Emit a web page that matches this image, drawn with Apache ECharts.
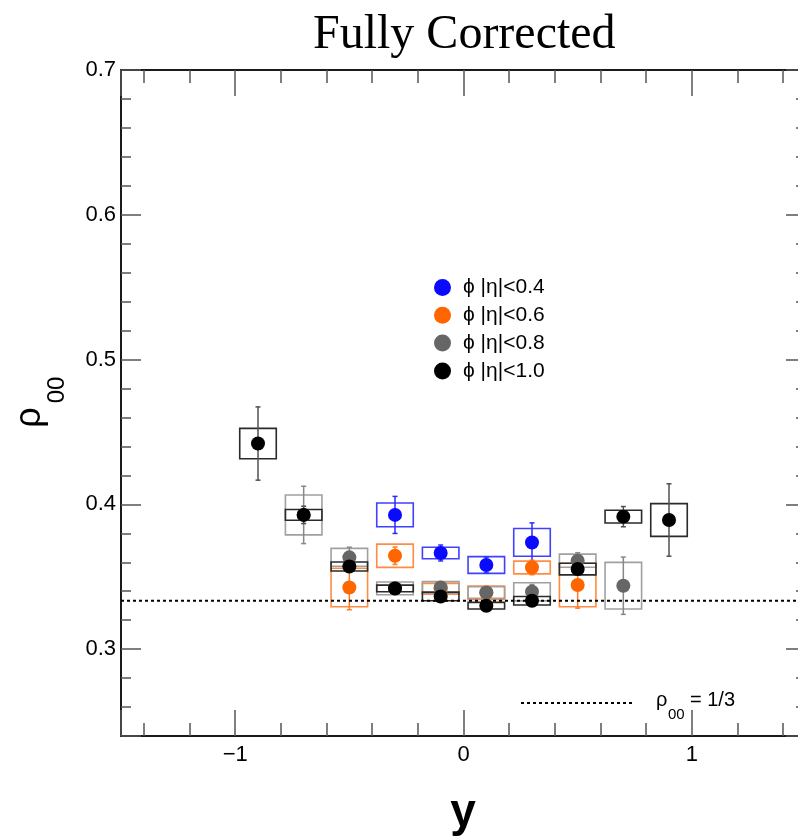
<!DOCTYPE html>
<html>
<head>
<meta charset="utf-8">
<script src="https://cdn.jsdelivr.net/npm/echarts@6/dist/echarts.min.js"></script>
<style>
html,body{margin:0;padding:0;background:#fff;}
#chart{width:798px;height:838px;}
</style>
</head>
<body>
<div id="chart"></div>
<script>
// ---------- data ----------
const seriesNames = ['ϕ |η|<0.4', 'ϕ |η|<0.6', 'ϕ |η|<0.8', 'ϕ |η|<1.0'];

const xBlue    = [-0.3, -0.1, 0.1, 0.3];
const yBlue    = [0.3927, 0.3664, 0.3581, 0.3737];
const statBlue = [0.0128, 0.0055, 0.0055, 0.0135];
const sysBlue  = [0.0082, 0.0040, 0.0058, 0.0096];

const xOrange    = [-0.5, -0.3, -0.1, 0.1, 0.3, 0.5];
const yOrange    = [0.3426, 0.3645, 0.3417, 0.3390, 0.3564, 0.3443];
const statOrange = [0.0154, 0.0060, 0.0040, 0.0040, 0.0050, 0.0160];
const sysOrange  = [0.0133, 0.0080, 0.0037, 0.0046, 0.0044, 0.0150];

const xGray    = [-0.7, -0.5, -0.3, -0.1, 0.1, 0.3, 0.5, 0.7];
const yGray    = [0.3927, 0.3634, 0.3420, 0.3426, 0.3391, 0.3396, 0.3611, 0.3438];
const statGray = [0.0198, 0.0070, 0.0040, 0.0040, 0.0040, 0.0050, 0.0055, 0.0198];
const sysGray  = [0.0138, 0.0062, 0.0044, 0.0040, 0.0040, 0.0063, 0.0045, 0.0161];

const xBlack    = [-0.9, -0.7, -0.5, -0.3, -0.1, 0.1, 0.3, 0.5, 0.7, 0.9];
const yBlack    = [0.4420, 0.3927, 0.3571, 0.3419, 0.3364, 0.3300, 0.3334, 0.3553, 0.3915, 0.3892];
const statBlack = [0.0253, 0.0060, 0.0030, 0.0030, 0.0030, 0.0030, 0.0030, 0.0040, 0.0070, 0.0250];
const sysBlack  = [0.0105, 0.0037, 0.0031, 0.0023, 0.0030, 0.0023, 0.0029, 0.0040, 0.0044, 0.0113];

const refValue = 1 / 3;

const xRange = [-1.5, 1.5];
const yRange = [0.24, 0.7];
const xTickValues = [-1, 0, 1];
const xTickLabels = ['−1', '0', '1'];
const yTickValues = [0.3, 0.4, 0.5, 0.6, 0.7];
const yTickLabels = ['0.3', '0.4', '0.5', '0.6', '0.7'];

// ---------- styling ----------
const BOX_HALF_WIDTH = 0.08;
const FONT = 'Liberation Sans, Arial, Helvetica, sans-serif';

const styles = [
  { dot: '#0a0aff', err: '#2a2aff', box: '#4040ff' },
  { dot: '#ff6600', err: '#ff7a20', box: '#ff8c45' },
  { dot: '#666666', err: '#888888', box: '#a0a0a0' },
  { dot: '#000000', err: '#505050', box: '#2a2a2a' }
];

function zip(xs, ys) { return xs.map((x, i) => [x, ys[i]]); }
function zip4(xs, ys, st, sy) { return xs.map((x, i) => [x, ys[i], st[i], sy[i]]); }

function errSeries(xs, ys, st, sy, style) {
  return {
    type: 'custom',
    silent: true,
    xAxisIndex: 0, yAxisIndex: 0,
    data: zip4(xs, ys, st, sy),
    encode: { x: 0, y: 1 },
    renderItem: function (params, api) {
      const x = api.value(0), y = api.value(1), s = api.value(2), b = api.value(3);
      const c = api.coord([x, y]);
      const t = api.coord([x, y + s]);
      const d = api.coord([x, y - s]);
      const tl = api.coord([x - BOX_HALF_WIDTH, y + b]);
      const br = api.coord([x + BOX_HALF_WIDTH, y - b]);
      return {
        type: 'group',
        children: [
          { type: 'rect', shape: { x: tl[0], y: tl[1], width: br[0] - tl[0], height: br[1] - tl[1] },
            style: { fill: 'none', stroke: style.box, lineWidth: 1.6 } },
          { type: 'line', shape: { x1: c[0], y1: t[1], x2: c[0], y2: d[1] },
            style: { stroke: style.err, lineWidth: 1.5 } },
          { type: 'line', shape: { x1: c[0] - 2.5, y1: t[1], x2: c[0] + 2.5, y2: t[1] },
            style: { stroke: style.err, lineWidth: 1.5 } },
          { type: 'line', shape: { x1: c[0] - 2.5, y1: d[1], x2: c[0] + 2.5, y2: d[1] },
            style: { stroke: style.err, lineWidth: 1.5 } }
        ]
      };
    }
  };
}

function dotSeries(name, xs, ys, style) {
  return {
    type: 'scatter',
    name: name,
    xAxisIndex: 0, yAxisIndex: 0,
    symbol: 'circle',
    symbolSize: 14,
    itemStyle: { color: style.dot, opacity: 1 },
    data: zip(xs, ys)
  };
}

const axisLineStyle = { color: '#1a1a1a', width: 2 };
const tickStyle = { color: '#555555', width: 1.5 };

function xAx(position, major, showLine, showLabel) {
  return {
    type: 'value', position: position, min: xRange[0], max: xRange[1],
    splitNumber: major ? 3 : 15,
    axisLine: { show: showLine, onZero: false, lineStyle: axisLineStyle },
    axisTick: { show: true, inside: true, length: major ? 26 : 13, lineStyle: tickStyle },
    axisLabel: {
      show: showLabel, margin: 8, color: '#000', fontSize: 22, fontFamily: FONT,
      formatter: function (v) {
        const i = xTickValues.findIndex(t => Math.abs(t - v) < 1e-9);
        return i >= 0 ? xTickLabels[i] : '';
      }
    },
    splitLine: { show: false }
  };
}
function yAx(position, major, showLine, showLabel) {
  return {
    type: 'value', position: position, min: yRange[0], max: yRange[1],
    splitNumber: major ? 5 : 23,
    axisLine: { show: showLine, onZero: false, lineStyle: axisLineStyle },
    axisTick: { show: true, inside: true, length: major ? 20 : 10, lineStyle: tickStyle },
    axisLabel: {
      show: showLabel, margin: 5, color: '#000', fontSize: 22, fontFamily: FONT,
      formatter: function (v) {
        const i = yTickValues.findIndex(t => Math.abs(t - v) < 1e-9);
        return i >= 0 ? yTickLabels[i] : '';
      }
    },
    splitLine: { show: false }
  };
}

const chart = echarts.init(document.getElementById('chart'), null, { renderer: 'canvas' });

const option = {
  animation: false,
  backgroundColor: '#ffffff',
  title: {
    text: 'Fully Corrected',
    left: 313, top: 11, padding: 0,
    textStyle: { fontFamily: 'Liberation Serif, Times New Roman, serif', fontSize: 48, fontWeight: 'normal', color: '#000' }
  },
  grid: { left: 121, width: 685, top: 70, height: 666, containLabel: false, outerBoundsMode: 'none' },
  xAxis: [
    xAx('bottom', true, true, true),
    xAx('top', true, true, false),
    xAx('top', false, false, false),
    xAx('bottom', false, false, false)
  ],
  yAxis: [
    yAx('left', true, true, true),
    yAx('right', true, true, false),
    yAx('right', false, false, false),
    yAx('left', false, false, false)
  ],
  legend: {
    orient: 'vertical', left: 434, top: 277, padding: 0,
    itemWidth: 17, itemHeight: 17, itemGap: 6.8,
    icon: 'circle',
    data: seriesNames,
    selectedMode: false,
    textStyle: { fontFamily: FONT, fontSize: 21, color: '#000', padding: [0, 0, 0, 7] }
  },
  series: [
    errSeries(xBlue, yBlue, statBlue, sysBlue, styles[0]),
    errSeries(xOrange, yOrange, statOrange, sysOrange, styles[1]),
    errSeries(xGray, yGray, statGray, sysGray, styles[2]),
    errSeries(xBlack, yBlack, statBlack, sysBlack, styles[3]),
    {
      type: 'line', silent: true, xAxisIndex: 0, yAxisIndex: 0,
      symbol: 'none',
      lineStyle: { color: '#000', type: [3, 3], width: 2 },
      data: [[xRange[0], refValue], [xRange[1], refValue]]
    },
    dotSeries(seriesNames[0], xBlue, yBlue, styles[0]),
    dotSeries(seriesNames[1], xOrange, yOrange, styles[1]),
    dotSeries(seriesNames[2], xGray, yGray, styles[2]),
    dotSeries(seriesNames[3], xBlack, yBlack, styles[3])
  ],
  graphic: [
    // y-axis title rho_00
    { type: 'text', x: 30, y: 417.5, rotation: Math.PI / 2,
      style: { text: 'ρ', fontFamily: FONT, fontSize: 36, fill: '#000', align: 'center', verticalAlign: 'middle' } },
    { type: 'text', x: 57, y: 390, rotation: Math.PI / 2,
      style: { text: '00', fontFamily: FONT, fontSize: 24, fill: '#000', align: 'center', verticalAlign: 'middle' } },
    // x-axis title
    { type: 'text', x: 463, y: 813,
      style: { text: 'y', fontFamily: FONT, fontSize: 46, fontWeight: 'bold', fill: '#000', align: 'center', verticalAlign: 'middle' } },
    // reference-line legend
    { type: 'line', shape: { x1: 521, y1: 703, x2: 634, y2: 703 },
      style: { stroke: '#000', lineWidth: 2, lineDash: [3, 3] } },
    { type: 'text', x: 656, y: 700,
      style: { text: 'ρ', fontFamily: FONT, fontSize: 20, fill: '#000', align: 'left', verticalAlign: 'middle' } },
    { type: 'text', x: 668, y: 715,
      style: { text: '00', fontFamily: FONT, fontSize: 15, fill: '#000', align: 'left', verticalAlign: 'middle' } },
    { type: 'text', x: 690, y: 700,
      style: { text: '= 1/3', fontFamily: FONT, fontSize: 20, fill: '#000', align: 'left', verticalAlign: 'middle' } }
  ]
};

chart.setOption(option);
</script>
</body>
</html>
